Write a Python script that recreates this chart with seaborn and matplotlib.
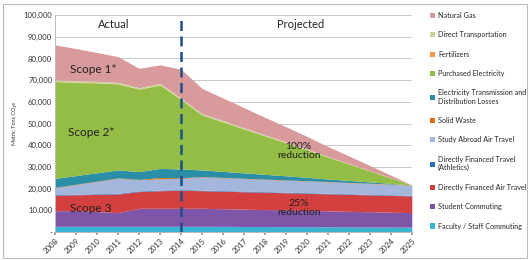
import matplotlib
matplotlib.use("Agg")
from matplotlib import pyplot as plt
from matplotlib.patches import Rectangle, Patch
from matplotlib.ticker import FuncFormatter
import seaborn as sns

years = list(range(2008, 2026))

# bottom of stack first
faculty_staff = [2600, 2600, 2600, 2600, 2600, 2600, 2600,
                 2600, 2560, 2520, 2480, 2440, 2400, 2360, 2320, 2280, 2240, 2200]
student = [7200, 7200, 6800, 6300, 8300, 8300, 8300,
           8300, 8140, 7980, 7820, 7660, 7500, 7340, 7180, 7020, 6860, 6700]
air_travel = [7100, 7300, 7900, 8600, 7700, 8100, 8300,
              8100, 8060, 8020, 7980, 7940, 7900, 7860, 7820, 7780, 7740, 7700]
athletics = [300, 300, 300, 300, 300, 300, 300,
             300, 295, 290, 285, 280, 275, 270, 265, 260, 255, 250]
study_abroad = [3200, 4400, 5600, 6900, 5100, 5200, 5200,
                6000, 5870, 5740, 5610, 5480, 5350, 5220, 5090, 4960, 4830, 4700]
solid_waste = [200, 200, 200, 200, 200, 600, 300,
               200, 195, 190, 185, 180, 175, 170, 165, 160, 155, 150]
td_losses = [4100, 4000, 3900, 3700, 3600, 4200, 4000,
             3100, 2800, 2500, 2200, 1900, 1600, 1200, 900, 600, 300, 0]
electricity = [44600, 42900, 41400, 39600, 38000, 38400, 32000,
               25300, 22800, 20200, 17700, 15200, 12700, 10100, 7600, 5100, 2500, 0]
fertilizers = [150, 150, 150, 150, 150, 150, 150,
               100, 90, 80, 70, 60, 50, 40, 30, 20, 10, 0]
direct_transport = [600, 600, 600, 600, 600, 600, 600,
                    600, 540, 480, 420, 360, 300, 240, 180, 120, 60, 0]
natural_gas = [16200, 14900, 13300, 11900, 8900, 8600, 13300,
               11600, 10400, 9300, 8100, 7000, 5800, 4600, 3500, 2300, 1200, 0]

series = [faculty_staff, student, air_travel, athletics, study_abroad, solid_waste,
          td_losses, electricity, fertilizers, direct_transport, natural_gas]
labels = ["Faculty / Staff Commuting", "Student Commuting", "Directly Financed Air Travel",
          "Directly Financed Travel\n(Athletics)", "Study Abroad Air Travel", "Solid Waste",
          "Electricity Transmission and\nDistribution Losses", "Purchased Electricity",
          "Fertilizers", "Direct Transportation", "Natural Gas"]
colors = ["#3BB3D3", "#7F55A8", "#D43F3F", "#2F6EBA", "#A3B6DC", "#E46C0A",
          "#2A8FA6", "#94BD45", "#F79646", "#C3D69B", "#D89A9A"]

sns.set_theme(style="white")
plt.rcParams["font.family"] = ["Lato", "DejaVu Sans"]

fig = plt.figure(figsize=(5.3, 2.6), dpi=100)
ax = fig.add_axes([0.104, 0.108, 0.673, 0.834])

ax.stackplot(years, *series, colors=colors, linewidth=0)

ax.set_xlim(2008, 2025)
ax.set_ylim(0, 100000)
ax.set_yticks(range(0, 100001, 10000))
ax.yaxis.set_major_formatter(FuncFormatter(lambda v, p: "-" if v == 0 else f"{int(v):,}"))
ax.set_xticks(years)
ax.set_xticklabels([str(y) for y in years], rotation=45, ha="right", rotation_mode="anchor")
ax.tick_params(axis="both", labelsize=5.6, colors="#333333", length=0, pad=2)
ax.tick_params(axis="x", length=2.5, color="#999999", direction="out", bottom=True, pad=1.5)
ax.grid(axis="y", color="#c8c8c8", linewidth=0.7)
ax.set_axisbelow(True)
for side in ["top", "right"]:
    ax.spines[side].set_visible(False)
for side in ["left", "bottom"]:
    ax.spines[side].set_color("#bbbbbb")
    ax.spines[side].set_linewidth(0.7)
ax.set_ylabel("Metric Tons CO₂e", fontsize=4, color="#333333", labelpad=5)

ax.axvline(2014, color="#1F4E8C", linestyle=(0, (4, 2.2)), linewidth=1.8, zorder=5)

ax.text(2010.8, 95500, "Actual", fontsize=8, ha="center", va="center", color="#222222")
ax.text(2019.7, 95500, "Projected", fontsize=8, ha="center", va="center", color="#222222")
ax.text(2008.7, 75000, "Scope 1*", fontsize=8.5, ha="left", va="center", color="#222222")
ax.text(2008.6, 46000, "Scope 2*", fontsize=8.5, ha="left", va="center", color="#222222")
ax.text(2008.7, 11000, "Scope 3", fontsize=8.5, ha="left", va="center", color="#222222")
ax.text(2019.6, 37500, "100%\nreduction", fontsize=7.5, ha="center", va="center",
        color="#222222", linespacing=1.0)
ax.text(2019.6, 11000, "25%\nreduction", fontsize=7.5, ha="center", va="center",
        color="#222222", linespacing=1.0)

handles = [Patch(facecolor=c, edgecolor="none") for c in colors]
leg = fig.legend(handles[::-1], labels[::-1], loc="upper left",
                 bbox_to_anchor=(0.806, 0.966), frameon=False, fontsize=5.2,
                 handlelength=0.7, handleheight=0.7, handletextpad=0.4,
                 labelspacing=1.72, borderaxespad=0)

fig.add_artist(Rectangle((0.006, 0.008), 0.988, 0.975, transform=fig.transFigure,
                         fill=False, edgecolor="#bbbbbb", linewidth=0.8))

fig.savefig("out.png", dpi=100)
